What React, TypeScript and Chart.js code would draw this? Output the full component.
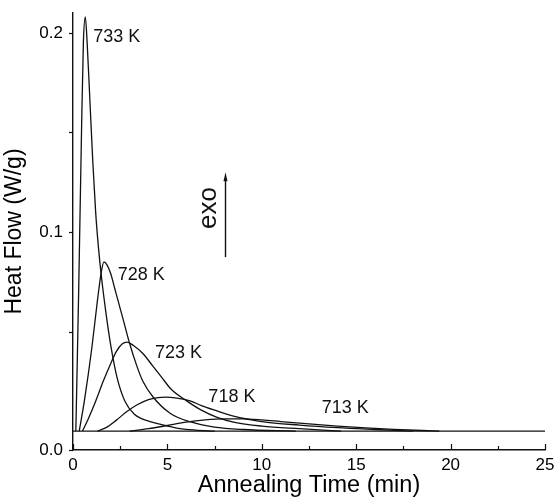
import React, { useEffect, useRef } from 'react';
import { Chart, registerables } from 'chart.js';

Chart.register(...registerables);

// ---- data ----
const curveNames = ['733 K', '728 K', '723 K', '718 K', '713 K'];

const time733 = [0.15, 0.3, 0.45, 0.55, 0.65, 0.75, 0.9, 1.05, 1.2, 1.35, 1.5, 1.75, 2.0, 2.33, 2.75, 3.25, 4.0, 4.6, 5.5, 6.5, 7.5];
const flow733 = [0.0, 0.07, 0.15, 0.195, 0.208, 0.195, 0.165, 0.135, 0.11, 0.092, 0.078, 0.059, 0.043, 0.027, 0.015, 0.0085, 0.005, 0.0035, 0.0015, 0.0005, 0.0];

const time728 = [0.33, 0.6, 1.0, 1.3, 1.5, 1.64, 1.8, 2.0, 2.2, 2.4, 2.66, 3.0, 3.37, 3.7, 4.25, 5.14, 6.2, 7.5, 9.0, 11.8];
const flow728 = [0.0, 0.015, 0.042, 0.066, 0.08, 0.085, 0.0835, 0.079, 0.072, 0.065, 0.056, 0.044, 0.033, 0.025, 0.017, 0.009, 0.0047, 0.002, 0.0008, 0.0];

const time723 = [0.5, 0.8, 1.2, 1.6, 2.0, 2.3, 2.6, 2.86, 3.2, 3.7, 4.2, 4.7, 5.2, 6.0, 6.8, 7.6, 8.5, 10.0, 12.0, 14.2];
const flow723 = [0.0, 0.006, 0.015, 0.025, 0.034, 0.04, 0.0437, 0.0447, 0.043, 0.039, 0.033, 0.027, 0.021, 0.0153, 0.0105, 0.007, 0.0045, 0.0025, 0.0012, 0.0];

const time718 = [1.3, 1.8, 2.3, 2.84, 3.4, 4.0, 4.5, 4.9, 5.5, 6.2, 6.8, 7.5, 8.5, 10.0, 12.0, 14.0, 16.0, 18.0];
const flow718 = [0.0, 0.002, 0.0055, 0.0097, 0.0132, 0.0158, 0.0168, 0.0171, 0.0166, 0.0152, 0.0128, 0.0105, 0.0075, 0.0048, 0.003, 0.0017, 0.0008, 0.0];

const time713 = [3.0, 4.0, 5.0, 6.0, 7.0, 8.0, 9.0, 10.0, 11.0, 12.5, 14.0, 15.5, 17.0, 18.5, 19.4];
const flow713 = [0.0, 0.0012, 0.0028, 0.0045, 0.0056, 0.0061, 0.0061, 0.0056, 0.0048, 0.0036, 0.0025, 0.0016, 0.0009, 0.0003, 0.0];

const baselineTime = [0, 25];
const baselineFlow = [0, 0];

// label anchors (data units)
const labelTime = [1.075, 2.37, 4.34, 7.17, 13.17];
const labelFlow = [0.198, 0.0784, 0.039, 0.0172, 0.0114];

const xTickLabels = ['0', '5', '10', '15', '20', '25'];
const yTickLabels = ['0.0', '0.1', '0.2'];

const X_MIN = 0;
const X_MAX = 25;
const Y_MIN = -0.0095;
const Y_MAX = 0.21;

const exoTime = 8.05;
const exoFrom = 0.0874;
const exoTo = 0.13;
const exoTextTime = 7.6;
const exoTextFlow = 0.112;

const FONT = '"Liberation Sans", Arial, Helvetica, sans-serif';

function pts(xs: number[], ys: number[]) {
  return xs.map((x, i) => ({ x, y: ys[i] }));
}

export default function App() {
  const ref = useRef<HTMLCanvasElement | null>(null);

  useEffect(() => {
    const canvas = ref.current;
    if (!canvas) return;

    const series = [
      pts(time733, flow733),
      pts(time728, flow728),
      pts(time723, flow723),
      pts(time718, flow718),
      pts(time713, flow713),
    ];

    const overlay = {
      id: 'overlay',
      afterDraw(chart: any) {
        const ctx = chart.ctx as CanvasRenderingContext2D;
        const xs = chart.scales.x;
        const ys = chart.scales.y;
        const area = chart.chartArea;
        ctx.save();
        ctx.strokeStyle = '#111';
        ctx.fillStyle = '#111';
        ctx.lineWidth = 1.2;
        // x ticks, inward
        xs.ticks.forEach((t: any) => {
          const px = Math.round(xs.getPixelForValue(t.value)) + 0.5;
          const major = Math.abs(t.value / 5 - Math.round(t.value / 5)) < 1e-6;
          const len = major ? 6 : 4;
          ctx.beginPath();
          ctx.moveTo(px, area.bottom);
          ctx.lineTo(px, area.bottom - len);
          ctx.stroke();
        });
        // y ticks, outward
        ys.ticks.forEach((t: any) => {
          const py = Math.round(ys.getPixelForValue(t.value)) + 0.5;
          ctx.beginPath();
          ctx.moveTo(area.left, py);
          ctx.lineTo(area.left - 4, py);
          ctx.stroke();
        });
        // curve labels
        ctx.font = `18px ${FONT}`;
        ctx.textAlign = 'left';
        ctx.textBaseline = 'middle';
        curveNames.forEach((name, i) => {
          ctx.fillText(name, xs.getPixelForValue(labelTime[i]), ys.getPixelForValue(labelFlow[i]));
        });
        // exo arrow
        const ax = Math.round(xs.getPixelForValue(exoTime)) + 0.5;
        const ay0 = ys.getPixelForValue(exoFrom);
        const ay1 = ys.getPixelForValue(exoTo);
        ctx.lineWidth = 1.4;
        ctx.beginPath();
        ctx.moveTo(ax, ay0);
        ctx.lineTo(ax, ay1 + 6);
        ctx.stroke();
        ctx.beginPath();
        ctx.moveTo(ax, ay1);
        ctx.lineTo(ax - 2, ay1 + 9);
        ctx.lineTo(ax + 2, ay1 + 9);
        ctx.closePath();
        ctx.fill();
        // exo text
        ctx.save();
        ctx.translate(xs.getPixelForValue(exoTextTime), ys.getPixelForValue(exoTextFlow));
        ctx.rotate(-Math.PI / 2);
        ctx.font = `26px ${FONT}`;
        ctx.textAlign = 'center';
        ctx.textBaseline = 'alphabetic';
        ctx.fillText('exo', 0, 0);
        ctx.restore();
        ctx.restore();
      },
    };

    const datasets: any[] = series.map((data, i) => ({
      label: curveNames[i],
      data,
      borderColor: '#111',
      borderWidth: 1.3,
      pointRadius: 0,
      fill: false,
      cubicInterpolationMode: 'monotone',
    }));
    datasets.push({
      label: 'baseline',
      data: pts(baselineTime, baselineFlow),
      borderColor: '#111',
      borderWidth: 1.3,
      pointRadius: 0,
      fill: false,
    });

    const chart = new Chart(canvas, {
      type: 'line',
      data: { datasets },
      plugins: [overlay],
      options: {
        animation: false,
        responsive: false,
        devicePixelRatio: 1,
        layout: { padding: { top: 13, right: 14, left: 0, bottom: 0 } },
        plugins: { legend: { display: false }, tooltip: { enabled: false } },
        scales: {
          x: {
            type: 'linear',
            min: X_MIN,
            max: X_MAX,
            grid: { display: true, drawOnChartArea: false, drawTicks: false },
            border: { display: true, color: '#111', width: 1.4 },
            ticks: {
              stepSize: 2.5,
              padding: 5,
              color: '#000',
              font: { family: FONT, size: 17, lineHeight: 1.2 },
              autoSkip: false,
              maxRotation: 0,
              callback: (v: any) => {
                const n = Number(v);
                const k = Math.round(n / 5);
                return Math.abs(n / 5 - k) < 1e-6 ? xTickLabels[k] : '';
              },
            },
            title: {
              display: true,
              text: 'Annealing Time (min)',
              color: '#000',
              font: { family: FONT, size: 23.5, lineHeight: 1.2 },
              padding: { top: 2, bottom: 0 },
            },
            afterFit: (s: any) => {
              s.height = 50;
              s.paddingLeft = 0;
              s.paddingRight = 0;
            },
          },
          y: {
            type: 'linear',
            min: Y_MIN,
            max: Y_MAX,
            grid: { display: true, drawOnChartArea: false, drawTicks: false },
            border: { display: true, color: '#111', width: 1.4 },
            afterBuildTicks: (s: any) => {
              s.ticks = [Y_MIN, 0.05, 0.1, 0.15, 0.2].map((value) => ({ value }));
            },
            ticks: {
              padding: 10,
              color: '#000',
              font: { family: FONT, size: 17, lineHeight: 1.2 },
              autoSkip: false,
              callback: (v: any) => {
                const n = Number(v);
                if (n < 0) return yTickLabels[0];
                if (Math.abs(n - 0.1) < 1e-9) return yTickLabels[1];
                if (Math.abs(n - 0.2) < 1e-9) return yTickLabels[2];
                return '';
              },
            },
            title: {
              display: true,
              text: 'Heat Flow (W/g)',
              color: '#000',
              font: { family: FONT, size: 23, lineHeight: 1.2 },
              padding: { top: 1, bottom: 4 },
            },
            afterFit: (s: any) => {
              s.width = 73;
              s.paddingTop = 0;
              s.paddingBottom = 0;
            },
          },
        },
      },
    });

    return () => chart.destroy();
  }, []);

  return (
    <div style={{ position: 'fixed', left: 0, top: 0, width: 559, height: 500, background: '#fff' }}>
      <canvas ref={ref} width={559} height={500} style={{ display: 'block', width: 559, height: 500 }} />
    </div>
  );
}
